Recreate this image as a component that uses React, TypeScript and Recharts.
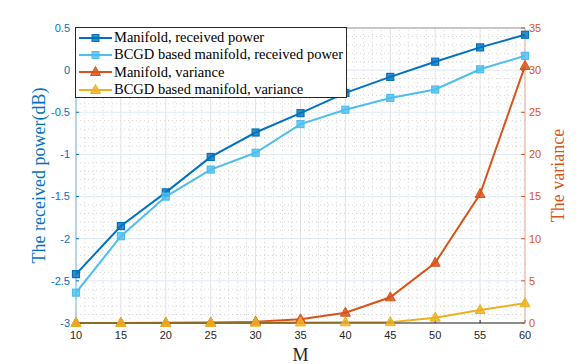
import React from "react";
import {
  ComposedChart,
  Line,
  XAxis,
  YAxis,
  CartesianGrid,
  ReferenceLine,
  Legend,
} from "recharts";

const M = [10, 15, 20, 25, 30, 35, 40, 45, 50, 55, 60];
const manifoldPower = [-2.42, -1.85, -1.45, -1.03, -0.74, -0.51, -0.27, -0.08, 0.1, 0.27, 0.42];
const bcgdPower = [-2.64, -1.97, -1.5, -1.18, -0.98, -0.64, -0.47, -0.33, -0.23, 0.01, 0.17];
const manifoldVar = [0.01, 0.01, 0.02, 0.05, 0.15, 0.44, 1.22, 3.05, 7.15, 15.3, 30.5];
const bcgdVar = [0.01, 0.01, 0.01, 0.02, 0.04, 0.06, 0.08, 0.1, 0.63, 1.54, 2.34];

const xTicks = [10, 15, 20, 25, 30, 35, 40, 45, 50, 55, 60];
const leftTicks = [-3, -2.5, -2, -1.5, -1, -0.5, 0, 0.5];
const rightTicks = [0, 5, 10, 15, 20, 25, 30, 35];

const BLUE = "#0072BD";
const LIGHT_BLUE = "#4DBEEE";
const ORANGE = "#D95319";
const YELLOW = "#EDB120";
const SERIF = "'Liberation Serif', 'Times New Roman', serif";
const SANS = "'Liberation Sans', Arial, sans-serif";

const data = M.map((m, i) => ({
  m,
  manifoldPower: manifoldPower[i],
  bcgdPower: bcgdPower[i],
  manifoldVar: manifoldVar[i],
  bcgdVar: bcgdVar[i],
}));

// minor grid: every 1 on M, every 0.1 dB on the left axis
const minorX: number[] = [];
for (let v = 11; v < 60; v++) if (v % 5 !== 0) minorX.push(v);
const minorY: number[] = [];
for (let k = -29; k < 5; k++) if (k % 5 !== 0) minorY.push(k / 10);

const squareDot = (color: string) => (props: any) => {
  const { cx, cy, index } = props;
  return (
    <rect
      key={`sq-${color}-${index}`}
      x={cx - 3.5}
      y={cy - 3.5}
      width={7}
      height={7}
      fill={color}
      fillOpacity={0.8}
      stroke={color}
      strokeWidth={1.2}
    />
  );
};

const triangleDot = (color: string) => (props: any) => {
  const { cx, cy, index } = props;
  return (
    <polygon
      key={`tri-${color}-${index}`}
      points={`${cx},${cy - 5.5} ${cx - 5},${cy + 3.5} ${cx + 5},${cy + 3.5}`}
      fill={color}
      fillOpacity={0.85}
      stroke={color}
      strokeWidth={1}
    />
  );
};

const legendItems = [
  { name: "Manifold, received power", color: BLUE, marker: "square" },
  { name: "BCGD based manifold, received power", color: LIGHT_BLUE, marker: "square" },
  { name: "Manifold, variance", color: ORANGE, marker: "triangle" },
  { name: "BCGD based manifold, variance", color: YELLOW, marker: "triangle" },
];

const LegendBox = () => (
  <div
    style={{
      border: "1px solid #262626",
      background: "#fff",
      width: 272,
      height: 71,
      boxSizing: "border-box",
      paddingTop: 1,
    }}
  >
    {legendItems.map((it) => (
      <div key={it.name} style={{ display: "flex", alignItems: "center", height: 17.3 }}>
        <svg width={38} height={14} style={{ flexShrink: 0 }}>
          <line x1={3} y1={7} x2={36} y2={7} stroke={it.color} strokeWidth={2} />
          {it.marker === "square" ? (
            <rect x={16} y={3.5} width={7} height={7} fill={it.color} fillOpacity={0.8} stroke={it.color} />
          ) : (
            <polygon points="19.5,1.5 14.5,10.5 24.5,10.5" fill={it.color} fillOpacity={0.85} stroke={it.color} />
          )}
        </svg>
        <span style={{ fontFamily: SERIF, fontSize: 14.5, color: "#000", whiteSpace: "nowrap" }}>{it.name}</span>
      </div>
    ))}
  </div>
);

const AxisTitle = ({ viewBox, text, color, dx }: any) => {
  const cx = viewBox.x + dx;
  const cy = viewBox.y + viewBox.height / 2;
  return (
    <text
      x={cx}
      y={cy}
      transform={`rotate(-90, ${cx}, ${cy})`}
      textAnchor="middle"
      dominantBaseline="central"
      fontFamily={SERIF}
      fontSize={18}
      fill={color}
    >
      {text}
    </text>
  );
};

const XTitle = ({ viewBox }: any) => (
  <text
    x={viewBox.x + viewBox.width / 2}
    y={viewBox.y + 32}
    textAnchor="middle"
    dominantBaseline="central"
    fontFamily={SERIF}
    fontSize={18}
    fill="#262626"
  >
    M
  </text>
);

export default function App() {
  return (
    <div style={{ position: "absolute", left: 0, top: 0, width: 581, height: 364, background: "#fff" }}>
      <ComposedChart width={581} height={364} data={data} margin={{ top: 28, right: 0, bottom: 0, left: 0 }}>
        <CartesianGrid yAxisId="left" horizontal={false} stroke="#e2e2e2" strokeWidth={1} />
        <CartesianGrid yAxisId="left" vertical={false} stroke="#dfeaf4" strokeWidth={1} />
        {minorX.map((v) => (
          <ReferenceLine key={`mx-${v}`} x={v} yAxisId="left" stroke="#d6d6d6" strokeDasharray="1 3" />
        ))}
        {minorY.map((v) => (
          <ReferenceLine key={`my-${v}`} y={v} yAxisId="left" stroke="#d6d6d6" strokeDasharray="1 3" />
        ))}
        <ReferenceLine y={0.5} yAxisId="left" stroke="#9a9a9a" strokeWidth={1} />
        <XAxis
          dataKey="m"
          type="number"
          domain={[10, 60]}
          ticks={xTicks}
          interval={0}
          height={41}
          tickSize={-3}
          tickMargin={11}
          axisLine={{ stroke: "#262626" }}
          tickLine={{ stroke: "#262626" }}
          tick={{ fill: "#262626", fontSize: 11, fontFamily: SANS }}
          label={<XTitle />}
        />
        <YAxis
          yAxisId="left"
          orientation="left"
          domain={[-3, 0.5]}
          ticks={leftTicks}
          interval={0}
          width={76}
          tickSize={-3}
          tickMargin={9}
          axisLine={{ stroke: "#7fb6de" }}
          tickLine={{ stroke: BLUE }}
          tick={{ fill: BLUE, fontSize: 11, fontFamily: SANS }}
          label={<AxisTitle text="The received power(dB)" color={BLUE} dx={39} />}
        />
        <YAxis
          yAxisId="right"
          orientation="right"
          domain={[0, 35]}
          ticks={rightTicks}
          interval={0}
          width={56}
          tickSize={-4}
          tickMargin={8}
          axisLine={{ stroke: "#eeb095" }}
          tickLine={{ stroke: ORANGE }}
          tick={{ fill: ORANGE, fontSize: 11, fontFamily: SANS, textAnchor: "start" }}
          label={<AxisTitle text="The variance" color={ORANGE} dx={33} />}
        />
        <Line
          yAxisId="left"
          dataKey="manifoldPower"
          stroke={BLUE}
          strokeWidth={2}
          dot={squareDot(BLUE)}
          isAnimationActive={false}
        />
        <Line
          yAxisId="left"
          dataKey="bcgdPower"
          stroke={LIGHT_BLUE}
          strokeWidth={2}
          dot={squareDot(LIGHT_BLUE)}
          isAnimationActive={false}
        />
        <Line
          yAxisId="right"
          dataKey="manifoldVar"
          stroke={ORANGE}
          strokeWidth={2}
          dot={triangleDot(ORANGE)}
          isAnimationActive={false}
        />
        <Line
          yAxisId="right"
          dataKey="bcgdVar"
          stroke={YELLOW}
          strokeWidth={2}
          dot={triangleDot(YELLOW)}
          isAnimationActive={false}
        />
        <Legend
          layout="vertical"
          align="center"
          verticalAlign="middle"
          content={<LegendBox />}
          wrapperStyle={{ left: 75, top: 27, width: 272, height: 71 }}
        />
      </ComposedChart>
    </div>
  );
}
